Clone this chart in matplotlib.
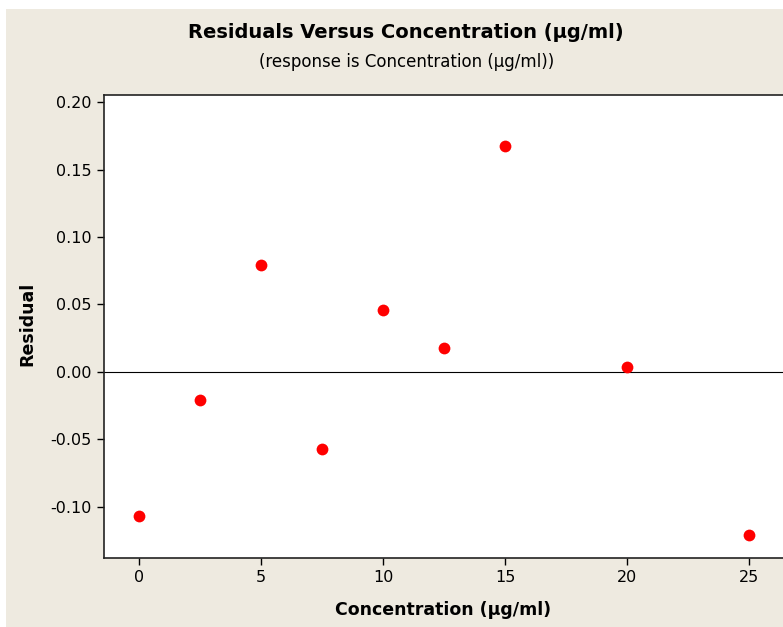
import matplotlib
matplotlib.use("Agg")
import matplotlib.pyplot as plt
from matplotlib.patches import Rectangle

concentration = [0, 2.5, 5, 7.5, 10, 12.5, 15, 20, 25]
residual = [-0.1064, -0.0207, 0.0795, -0.0572, 0.0458, 0.0177, 0.1672, 0.0035, -0.1207]
xticks = [0, 5, 10, 15, 20, 25]
yticks = [-0.10, -0.05, 0.00, 0.05, 0.10, 0.15, 0.20]

W, H = 783, 627
fig = plt.figure(figsize=(W/100, H/100), dpi=100)
fig.patch.set_facecolor("white")
bg = "#EEEAE0"
fig.patches.append(Rectangle((6/W, 0), 1, 1 - 9/H, transform=fig.transFigure,
                             facecolor=bg, edgecolor="none", zorder=-10))

ax = fig.add_axes([104/W, 1 - 558/H, (786 - 104)/W, (558 - 95)/H])
ax.set_facecolor("white")
ax.scatter(concentration, residual, s=72, color="#FF0000", zorder=3, linewidths=0)
ax.axhline(0, color="black", lw=0.8, zorder=2)

ax.set_xlim(-1.44, 26.5)
ax.set_ylim(-0.1378, 0.2052)
ax.set_xticks(xticks)
ax.set_xticklabels([str(v) for v in xticks])
ax.set_yticks(yticks)
ax.set_yticklabels([f"{v:.2f}" for v in yticks])
ax.tick_params(direction="out", length=5, width=1, labelsize=11.5, colors="black", pad=4)
for s in ax.spines.values():
    s.set_linewidth(1.2)
    s.set_color("#222222")

fig.text(406/W, 1 - 33/H, "Residuals Versus Concentration (µg/ml)", ha="center", va="center",
         fontsize=14, fontweight="bold", family="DejaVu Sans")
fig.text(407/W, 1 - 62/H, "(response is Concentration (µg/ml))", ha="center", va="center",
         fontsize=12, family="DejaVu Sans")
fig.text(443/W, 1 - 610/H, "Concentration (µg/ml)", ha="center", va="center",
         fontsize=12.5, fontweight="bold")
fig.text(27/W, 1 - 324/H, "Residual", ha="center", va="center", rotation=90,
         fontsize=12.5, fontweight="bold")

fig.savefig("out.png", dpi=100)
